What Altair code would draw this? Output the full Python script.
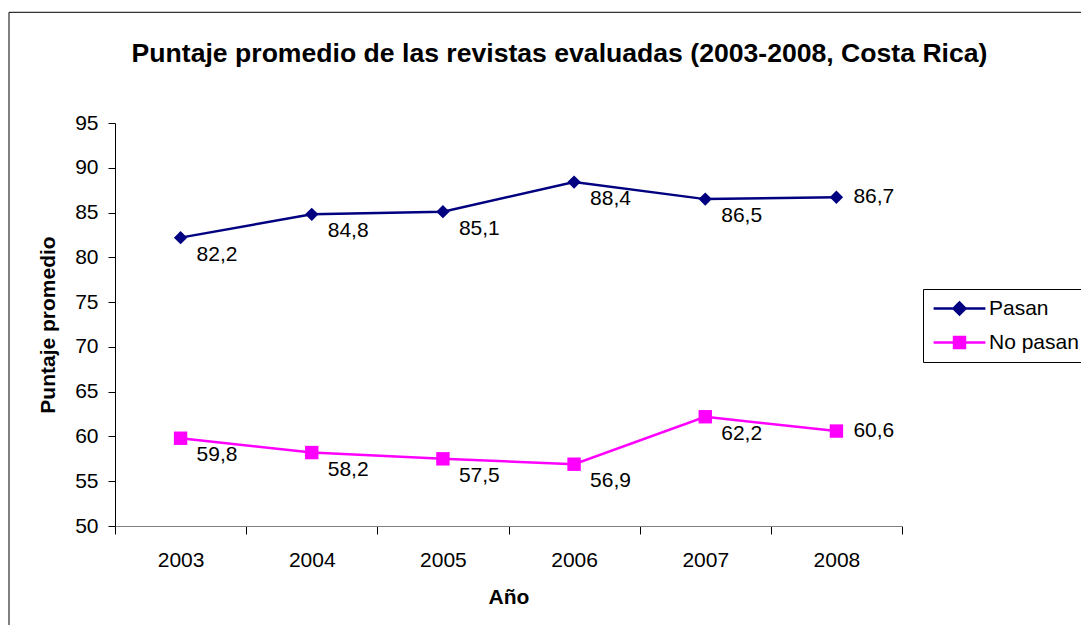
import altair as alt
import pandas as pd

years = ["2003", "2004", "2005", "2006", "2007", "2008"]
pasan = [82.2, 84.8, 85.1, 88.4, 86.5, 86.7]
no_pasan = [59.8, 58.2, 57.5, 56.9, 62.2, 60.6]
series = ["Pasan", "No pasan"]
colors = ["#000080", "#FF00FF"]
shapes = ["diamond", "square"]
y_ticks = [50, 55, 60, 65, 70, 75, 80, 85, 90, 95]

rows = []
for s, vals in zip(series, [pasan, no_pasan]):
    for yr, v in zip(years, vals):
        rows.append({"year": yr, "v": v, "serie": s})
df = pd.DataFrame(rows)

FONT = "Liberation Sans"
W, H = 787, 403

leg_path_pasan = "M-3.7,0H3.7M-0.85,0L0,-0.85L0.85,0L0,0.85Z"
leg_path_nop = "M-3.7,0H3.7M-0.78,-0.78H0.78V0.78H-0.78Z"
shape_expr = "datum.value === 'Pasan' ? '%s' : '%s'" % (leg_path_pasan, leg_path_nop)
col_expr = "datum.value === 'Pasan' ? '%s' : '%s'" % (colors[0], colors[1])

x_enc = alt.X(
    "year:O",
    sort=years,
    scale=alt.Scale(type="band", paddingInner=0, paddingOuter=0),
    axis=alt.Axis(
        title="Año", labelAngle=0, tickBand="extent", grid=False,
        domainColor="#808080", tickColor="#000000", tickSize=8,
        labelPadding=15, labelFont=FONT, labelFontSize=21, labelColor="#000000",
        titleFont=FONT, titleFontSize=21, titleFontWeight="bold", titleColor="#000000",
        titlePadding=16,
    ),
)
y_enc = alt.Y(
    "v:Q",
    scale=alt.Scale(domain=[50, 95], nice=False, zero=False),
    axis=alt.Axis(
        values=y_ticks, title="Puntaje promedio", grid=False,
        domainColor="#000000", tickColor="#000000", tickSize=7,
        labelPadding=10, labelFont=FONT, labelFontSize=21, labelColor="#000000",
        titleFont=FONT, titleFontSize=21, titleFontWeight="bold", titleColor="#000000",
        titleX=-67, titleY=201.5, titleBaseline="middle", titleAngle=270,
    ),
)
color_enc = alt.Color(
    "serie:N",
    scale=alt.Scale(domain=series, range=colors),
    legend=alt.Legend(
        title=None, orient="none", legendX=808, legendY=166,
        symbolSize=196, symbolStrokeWidth=2.5, symbolOffset=17, labelOffset=19,
        labelFont=FONT, labelFontSize=21, labelColor="#000000",
        strokeColor="#000000", fillColor="#FFFFFF", padding=9, rowPadding=11,
        symbolType={"expr": shape_expr},
        symbolFillColor={"expr": col_expr},
        symbolStrokeColor={"expr": col_expr},
        symbolOpacity=1,
    ),
)

base = alt.Chart(df)

frame = alt.Chart(pd.DataFrame({"k": [0]})).mark_rect(
    fill=None, stroke="#000000", strokeWidth=1
).encode(
    x=alt.value(-106), x2=alt.value(1200), y=alt.value(-110.7), y2=alt.value(700)
)

lines = base.mark_line(strokeWidth=2.5).encode(x=x_enc, y=y_enc, color=color_enc)

point_layers = []
for s, c, sh in zip(series, colors, shapes):
    point_layers.append(
        base.transform_filter(alt.datum.serie == s).mark_point(
            filled=True, opacity=1, size=180, shape=sh, color=c
        ).encode(x=x_enc, y=y_enc)
    )

lab_expr = "replace(format(datum.v, '.1f'), '.', ',')"
text_a = base.transform_filter("datum.year != '2008'").transform_calculate(lab=lab_expr).mark_text(
    align="left", baseline="middle", dx=16, dy=17, font=FONT, fontSize=21, color="#000000"
).encode(x=x_enc, y=y_enc, text="lab:N")
text_b = base.transform_filter("datum.year == '2008'").transform_calculate(lab=lab_expr).mark_text(
    align="left", baseline="middle", dx=17, dy=0, font=FONT, fontSize=21, color="#000000"
).encode(x=x_enc, y=y_enc, text="lab:N")

chart = alt.layer(frame, lines, *point_layers, text_a, text_b).properties(
    width=W, height=H,
    title=alt.TitleParams(
        text="Puntaje promedio de las revistas evaluadas (2003-2008, Costa Rica)",
        font=FONT, fontSize=26.6, fontWeight="bold", color="#000000",
        anchor="middle", dx=51, offset=-56,
    ),
    autosize=alt.AutoSizeParams(type="none"),
    padding={"left": 107, "top": 115, "right": 179, "bottom": 99},
    background="#FFFFFF",
).configure_view(stroke=None)

chart.save("out.html", embed_options={"renderer": "svg", "actions": False})
